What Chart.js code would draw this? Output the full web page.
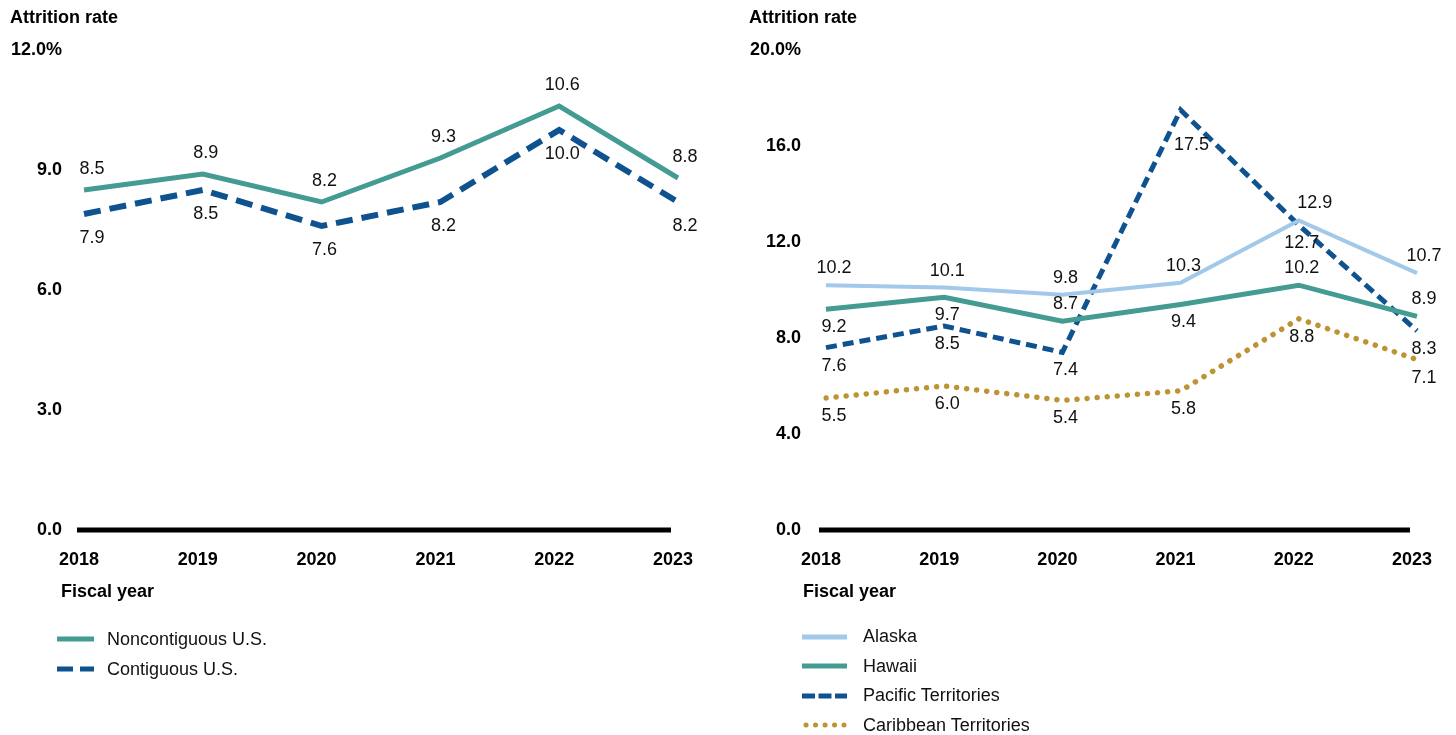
<!DOCTYPE html>
<html>
<head>
<meta charset="utf-8">
<script src="https://cdn.jsdelivr.net/npm/chart.js@4.4.1/dist/chart.umd.min.js"></script>
<style>
    body { margin: 0; background: #fff; font-family: Arial, "Liberation Sans", sans-serif; }
    .panel { position: absolute; top: 0; width: 728px; height: 735px; }
    .panel canvas { position: absolute; left: 0; top: 0; }
    .title, .axis-title { position: absolute; font-weight: bold; font-size: 18px; line-height: 20px; color: #000; white-space: nowrap; }
    .legend { position: absolute; font-size: 18px; color: #111; }
    .legend-row { display: flex; align-items: center; white-space: nowrap; }
</style>
</head>
<body>
<div class="panel" style="left:0">
    <canvas id="chart-left" width="728" height="735"></canvas>
    <div class="title" style="left:10px;top:7px">Attrition rate</div>
    <div class="axis-title" style="left:61px;top:581px">Fiscal year</div>
    <div class="legend" id="legend-left" style="left:57px;top:624px"></div>
</div>
<div class="panel" style="left:728px">
    <canvas id="chart-right" width="728" height="735"></canvas>
    <div class="title" style="left:21px;top:7px">Attrition rate</div>
    <div class="axis-title" style="left:75px;top:581px">Fiscal year</div>
    <div class="legend" id="legend-right" style="left:74px;top:622px"></div>
</div>
<script>
// DATEN
const years = ['2018', '2019', '2020', '2021', '2022', '2023'];
const noncontiguous = [8.5, 8.9, 8.2, 9.3, 10.6, 8.8];
const contiguous = [7.9, 8.5, 7.6, 8.2, 10.0, 8.2];
const alaska = [10.2, 10.1, 9.8, 10.3, 12.9, 10.7];
const hawaii = [9.2, 9.7, 8.7, 9.4, 10.2, 8.9];
const pacific = [7.6, 8.5, 7.4, 17.5, 12.7, 8.3];
const caribbean = [5.5, 6.0, 5.4, 5.8, 8.8, 7.1];

const TEAL = '#449b92';
const NAVY = '#0f5290';
const SKY = '#a2c9e9';
const GOLD = '#bd9433';

Chart.defaults.font.family = 'Arial, "Liberation Sans", sans-serif';
Chart.defaults.color = '#000';

// Nulllinie, leicht nach links versetzt wie im Original
const baseLine = {
    id: 'baseLine',
    beforeDatasetsDraw(chart) {
        const { ctx, chartArea } = chart;
        const y = chart.scales.y.getPixelForValue(0);
        ctx.save();
        ctx.strokeStyle = '#000';
        ctx.lineWidth = 5;
        ctx.beginPath();
        ctx.moveTo(chartArea.left - 7, y);
        ctx.lineTo(chartArea.right - 7, y);
        ctx.stroke();
        ctx.restore();
    }
};

// Werte an den Punkten
const pointLabels = {
    id: 'pointLabels',
    afterDatasetsDraw(chart, args, opts) {
        const ctx = chart.ctx;
        ctx.save();
        ctx.font = '18px Arial, "Liberation Sans", sans-serif';
        ctx.fillStyle = '#111';
        ctx.textAlign = 'center';
        ctx.textBaseline = 'middle';
        chart.data.datasets.forEach((ds, i) => {
            const meta = chart.getDatasetMeta(i);
            const last = meta.data.length - 1;
            meta.data.forEach((pt, j) => {
                const below = ds.labelPos[j] === 'b';
                let dx = j === 0 ? 8 : (j === last ? 7 : 3);
                let dy = below ? opts.below : -opts.above;
                if (ds.labelNudge && ds.labelNudge[j]) {
                    dx += ds.labelNudge[j][0];
                    dy += ds.labelNudge[j][1];
                }
                ctx.fillText(ds.data[j].toFixed(1), pt.x + dx, pt.y + dy);
            });
        });
        ctx.restore();
    }
};

function makeChart(id, datasets, cfg) {
    return new Chart(document.getElementById(id), {
        type: 'line',
        data: { labels: years, datasets: datasets },
        options: {
            responsive: false,
            animation: false,
            layout: { padding: { top: 50, right: cfg.padRight, bottom: 165, left: 0 } },
            elements: { point: { radius: 0 }, line: { tension: 0 } },
            plugins: {
                legend: { display: false },
                tooltip: { enabled: false },
                pointLabels: { above: cfg.above, below: cfg.below }
            },
            scales: {
                x: {
                    grid: { display: false, drawTicks: false },
                    border: { display: false },
                    ticks: { font: { size: 18, weight: 'bold' }, padding: 19, labelOffset: -5, maxRotation: 0 },
                    afterFit(scale) { scale.height = 40; }
                },
                y: {
                    min: 0,
                    max: cfg.max,
                    grid: { display: false, drawTicks: false },
                    border: { display: false },
                    ticks: {
                        stepSize: cfg.step,
                        padding: cfg.tickPad,
                        font: { size: 18, weight: 'bold' },
                        callback: (v) => v.toFixed(1) + (v === cfg.max ? '%' : '')
                    },
                    afterFit(scale) { scale.width = cfg.axisWidth; }
                }
            }
        },
        plugins: [baseLine, pointLabels]
    });
}

function buildLegend(id, datasets, sampleW, gap, rowH) {
    const box = document.getElementById(id);
    datasets.forEach(ds => {
        const row = document.createElement('div');
        row.className = 'legend-row';
        row.style.height = rowH + 'px';
        const dash = ds.legendDash || ds.borderDash || [];
        const cap = ds.borderCapStyle === 'round' ? 'round' : 'butt';
        const x0 = cap === 'round' ? 4 : 0;
        const x1 = cap === 'round' ? sampleW - 3 : sampleW;
        row.innerHTML =
            '<svg width="' + sampleW + '" height="10" style="margin-right:' + gap + 'px">' +
            '<line x1="' + x0 + '" y1="5" x2="' + x1 + '" y2="5" stroke="' + ds.borderColor +
            '" stroke-width="5" stroke-linecap="' + cap + '" stroke-dasharray="' + dash.join(' ') + '"/></svg>' +
            '<span>' + ds.label + '</span>';
        box.appendChild(row);
    });
}

// LINKES DIAGRAMM
const leftSets = [
    {
        label: 'Noncontiguous U.S.',
        data: noncontiguous,
        borderColor: TEAL,
        borderWidth: 5,
        borderJoinStyle: 'miter',
        labelPos: ['a', 'a', 'a', 'a', 'a', 'a']
    },
    {
        label: 'Contiguous U.S.',
        data: contiguous,
        borderColor: NAVY,
        borderWidth: 6,
        borderDash: [17, 9],
        legendDash: [16, 7],
        labelPos: ['b', 'b', 'b', 'b', 'b', 'b']
    }
];
makeChart('chart-left', leftSets, { max: 12, step: 3, padRight: 50, axisWidth: 84, tickPad: 22, above: 21, below: 24 });
buildLegend('legend-left', leftSets, 37, 13, 30);

// RECHTES DIAGRAMM
const rightSets = [
    {
        label: 'Alaska',
        data: alaska,
        borderColor: SKY,
        borderWidth: 4,
        labelPos: ['a', 'a', 'a', 'a', 'a', 'a'],
        labelNudge: { 4: [13, 0] }
    },
    {
        label: 'Hawaii',
        data: hawaii,
        borderColor: TEAL,
        borderWidth: 5,
        labelPos: ['b', 'b', 'a', 'b', 'a', 'a']
    },
    {
        label: 'Pacific Territories',
        data: pacific,
        borderColor: NAVY,
        borderWidth: 5,
        borderDash: [11, 6],
        legendDash: [13, 3.5],
        labelPos: ['b', 'b', 'b', 'b', 'b', 'b'],
        labelNudge: { 3: [8, 17] }
    },
    {
        label: 'Caribbean Territories',
        data: caribbean,
        borderColor: GOLD,
        borderWidth: 5.5,
        borderDash: [0.1, 10],
        borderCapStyle: 'round',
        legendDash: [0.1, 9.4],
        labelPos: ['b', 'b', 'b', 'b', 'b', 'b']
    }
];
makeChart('chart-right', rightSets, { max: 20, step: 4, padRight: 36, axisWidth: 98, tickPad: 25, above: 17, below: 18 });
buildLegend('legend-right', rightSets, 45, 16, 29.5);
</script>
</body>
</html>
